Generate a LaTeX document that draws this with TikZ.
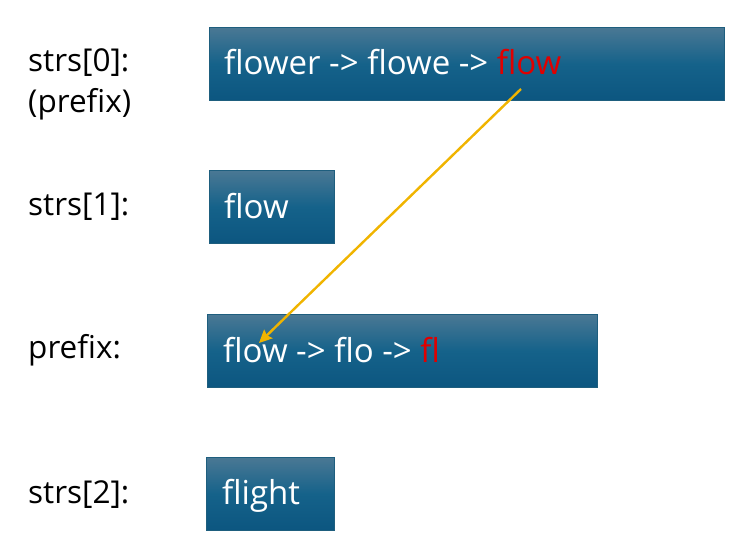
\documentclass[tikz,border=0pt]{standalone}
\usepackage{fontspec}
\setmainfont{Open Sans}
\usetikzlibrary{arrows.meta}
\definecolor{boxtop}{HTML}{4A7894}
\definecolor{boxmid}{HTML}{15628A}
\definecolor{boxbot}{HTML}{0C5680}
\definecolor{boxedge}{HTML}{1E5E7E}
\definecolor{hl}{HTML}{E00000}
\definecolor{arr}{HTML}{F0B400}
\begin{document}
\begin{tikzpicture}[x=1pt,y=-1pt,
  blk/.style={rectangle, draw=boxedge, line width=0.8pt, top color=boxtop, bottom color=boxbot, middle color=boxmid, inner sep=0pt, anchor=north west},
  lbl/.style={anchor=base west, inner sep=0pt, font=\fontsize{31.5}{37}\selectfont, text=black},
  btxt/.style={anchor=base west, inner sep=0pt, font=\fontsize{33}{39}\selectfont, text=white},
  link/.style={draw=arr, line width=2.4pt, -{Stealth[length=13pt,width=12pt,inset=2pt]}}]
\useasboundingbox (0,0) rectangle (748,551);
% boxes
\node[blk, minimum width=515pt, minimum height=73pt] (b0) at (209,27) {};
\node[blk, minimum width=125pt, minimum height=73pt] (b1) at (209,170) {};
\node[blk, minimum width=390pt, minimum height=73pt] (b2) at (207,314) {};
\node[blk, minimum width=128pt, minimum height=73pt] (b3) at (206,457) {};
% box texts
\node[btxt] (t0) at (224,75) {flower -> flowe -> \textcolor{hl}{flow}};
\node[btxt] (t1) at (224,218) {flow};
\node[btxt] (t2) at (223,362) {flow -> flo -> \textcolor{hl}{fl}};
\node[btxt] (t3) at (222,504) {flight};
% left labels
\node[lbl] (l0) at (28,72) {strs[0]:};
\node[lbl] (l0b) at (28,113) {(prefix)};
\node[lbl] (l1) at (28,215) {strs[1]:};
\node[lbl] (l2) at (28,358) {prefix:};
\node[lbl] (l3) at (28,503) {strs[2]:};
% arrow
\coordinate (from) at (521,89);
\coordinate (to) at (259,343);
\draw[link] (from) -- (to);
\end{tikzpicture}
\end{document}
